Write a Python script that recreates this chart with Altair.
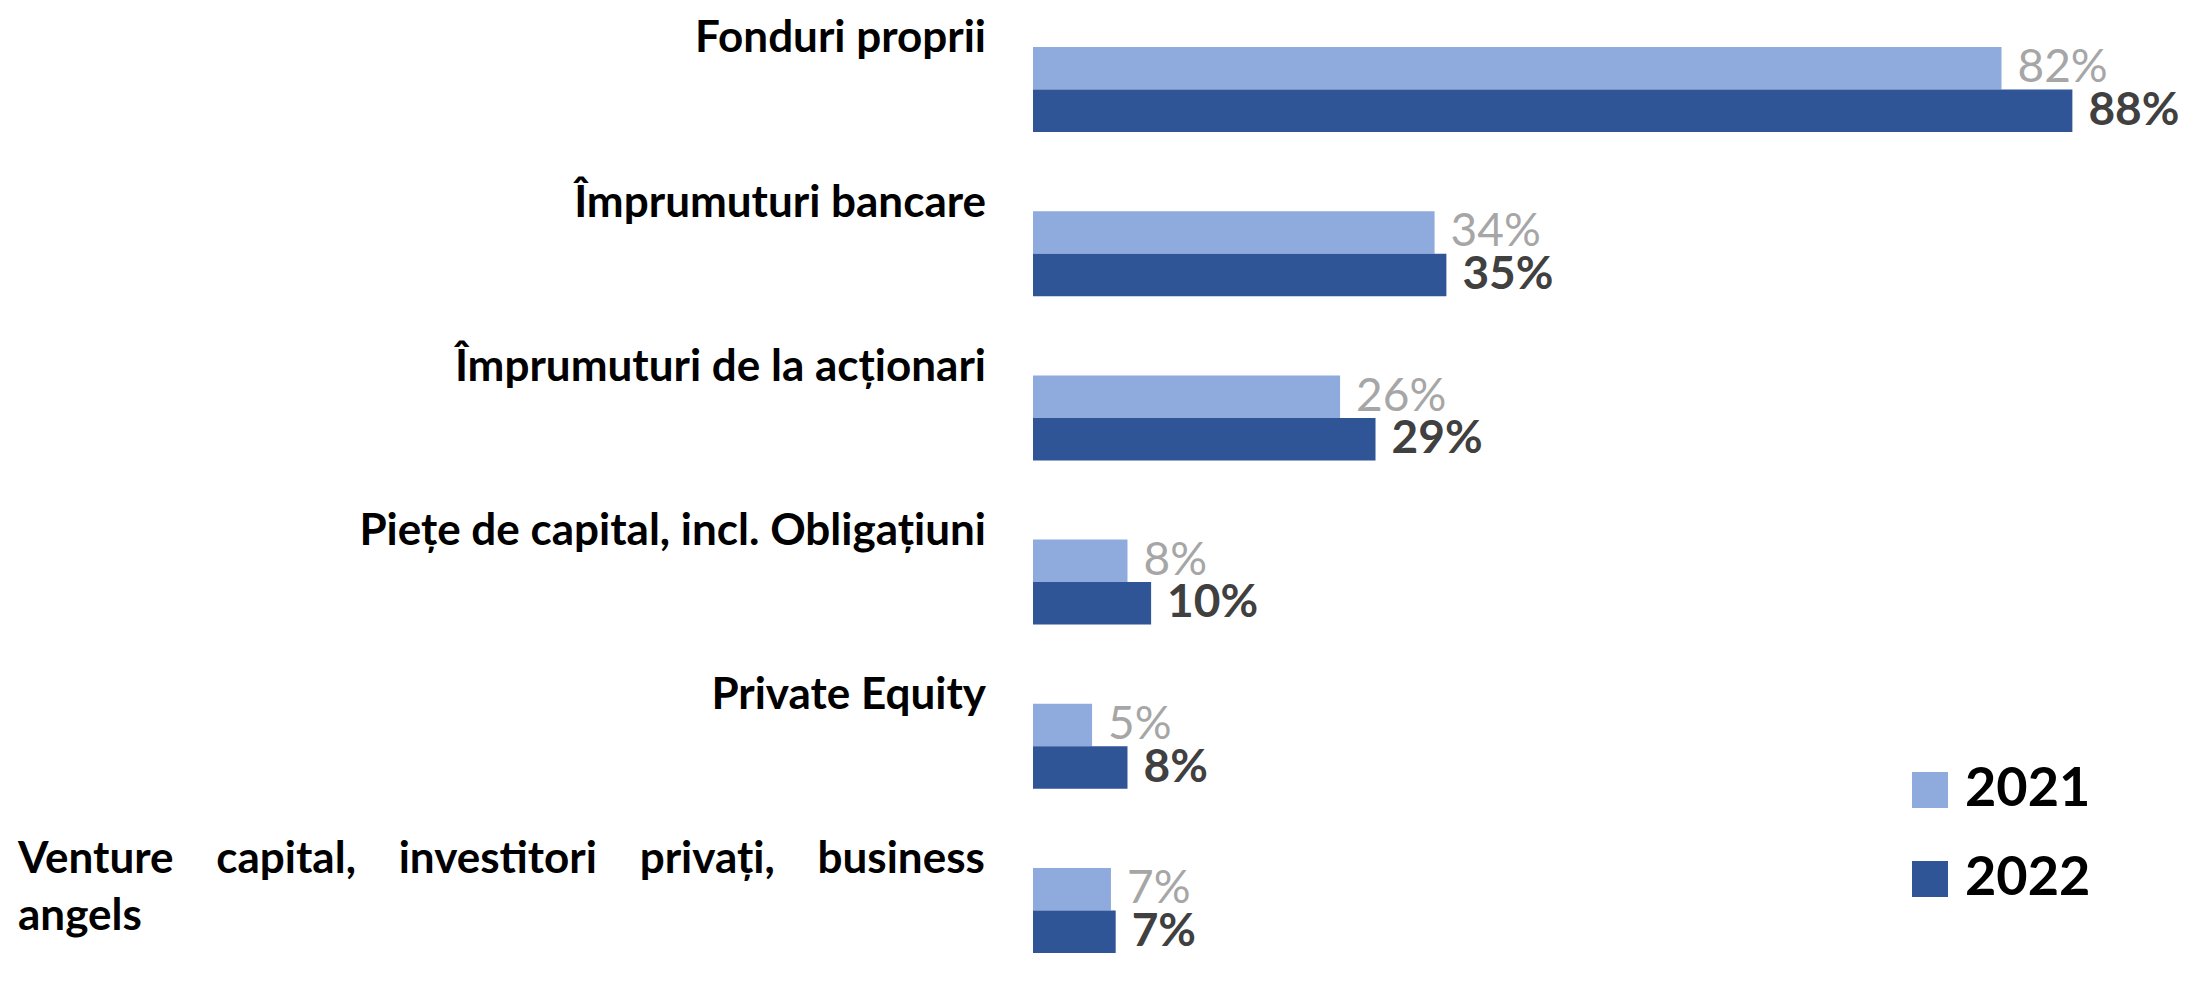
import altair as alt
import pandas as pd

categories = [
    "Fonduri proprii",
    "Împrumuturi bancare",
    "Împrumuturi de la acționari",
    "Piețe de capital, incl. Obligațiuni",
    "Private Equity",
    "Venture capital, investitori privați, business angels",
]
years = ["2021", "2022"]
values_2021 = [82, 34, 26, 8, 5, 6.6]
values_2022 = [88, 35, 29, 10, 8, 7]
bar_colors = ["#8FAADC", "#2F5597"]

NB = "\u00a0"
venture_line1 = f"Venture{NB*3} capital,{NB*3} investitori{NB*3} privați,{NB*3} business"
venture_line2 = "angels"

rows = []
for i, c in enumerate(categories):
    for y, v in zip(years, (values_2021[i], values_2022[i])):
        rows.append({"cat": c, "year": y, "value": v, "label": f"{round(v)}%"})
df = pd.DataFrame(rows)

lab_df = pd.DataFrame({"cat": categories[:5], "text": categories[:5]})
ven_df = pd.DataFrame({"cat": [categories[5]], "text": [venture_line1 + "\n" + venture_line2]})

FONT = "Lato"
CAT_SIZE = 44

y_enc = alt.Y(
    "cat:N",
    sort=categories,
    scale=alt.Scale(paddingInner=0.4823, paddingOuter=0.21, align=0.565),
    axis=alt.Axis(labels=False, ticks=False, title=None, grid=False,
                  domainColor="#D9D9D9", domainWidth=2),
)
y_plain = alt.Y("cat:N", sort=categories, axis=None)
yoff = alt.YOffset("year:N", sort=years, scale=alt.Scale(paddingInner=0, paddingOuter=0))
x_enc = alt.X("value:Q", scale=alt.Scale(domain=[0, 90]), axis=None)

bars = alt.Chart(df).mark_bar().encode(
    x=x_enc,
    y=y_enc,
    yOffset=yoff,
    color=alt.Color(
        "year:N",
        sort=years,
        scale=alt.Scale(domain=years, range=bar_colors),
        legend=alt.Legend(
            orient="none", legendX=870, legendY=755, title=None,
            symbolType="square", symbolSize=1296, symbolStrokeWidth=0,
            labelFont=FONT, labelFontSize=54, labelFontWeight="bold",
            labelColor="#000000", labelOffset=8, rowPadding=35,
        ),
    ),
)

lbl21 = alt.Chart(df).transform_filter(alt.datum.year == "2021").mark_text(
    align="left", baseline="middle", dx=16, font=FONT, fontSize=46,
    fontWeight="normal", color="#A6A6A6",
).encode(x=x_enc, y=y_plain, yOffset=yoff, text="label:N")

lbl22 = alt.Chart(df).transform_filter(alt.datum.year == "2022").mark_text(
    align="left", baseline="middle", dx=16, font=FONT, fontSize=46,
    fontWeight="bold", color="#404040",
).encode(x=x_enc, y=y_plain, yOffset=yoff, text="label:N")

cat_lbl = alt.Chart(lab_df).mark_text(
    align="right", baseline="alphabetic", dy=-37, font=FONT, fontSize=CAT_SIZE,
    fontWeight="bold", color="#000000",
).encode(y=y_plain, x=alt.value(-47), text="text:N")

ven_lbl = alt.Chart(ven_df).mark_text(
    align="left", baseline="alphabetic", dy=-37, font=FONT, fontSize=CAT_SIZE,
    fontWeight="bold", color="#000000", lineBreak="\n", lineHeight=57,
).encode(y=y_plain, x=alt.value(-1015), text="text:N")

chart = alt.layer(bars, lbl21, lbl22, cat_lbl, ven_lbl).properties(
    width=1063, height=975,
    autosize=alt.AutoSizeParams(type="none"),
    padding={"left": 1025, "top": 0, "right": 100, "bottom": 2},
).configure_view(stroke=None)

chart.save("out.html", embed_options={"renderer": "svg", "actions": False})
